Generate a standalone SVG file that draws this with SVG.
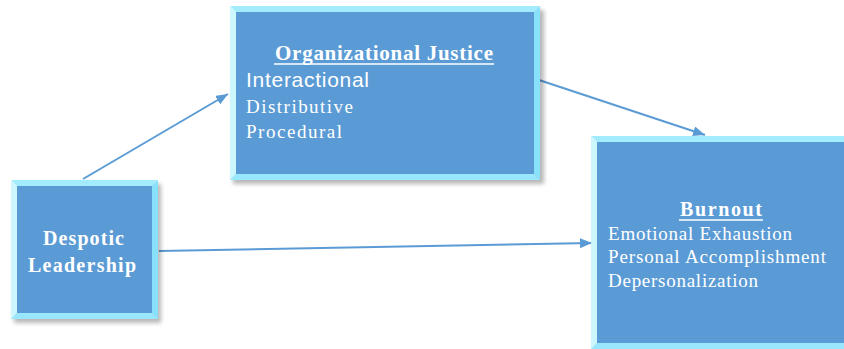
<svg xmlns="http://www.w3.org/2000/svg" width="844" height="349" viewBox="0 0 844 349">
  <defs>
    <style>
      .face { fill: #5B9BD5; }
      .bev-t { fill: #A3ECFE; }
      .bev-l { fill: #CCF7FF; }
      .bev-r { fill: #88E1FA; }
      .bev-b { fill: #98E7FC; }
      .shadow { fill: #000; opacity: 0.28; filter: url(#soft); }
      .title { font-family: "Liberation Serif", "Times New Roman", serif; font-weight: bold; fill: #FFFFFF; }
      .serif { font-family: "Liberation Serif", "Times New Roman", serif; fill: #FFFFFF; }
      .sans { font-family: "Liberation Sans", Arial, sans-serif; fill: #FFFFFF; }
      .uline { stroke: #FFFFFF; stroke-width: 1.3; }
      .link { stroke: #5B9BD5; stroke-width: 2; fill: none; marker-end: url(#head); }
    </style>
    <filter id="soft" x="-10%" y="-10%" width="130%" height="130%">
      <feGaussianBlur stdDeviation="2"/>
    </filter>
    <marker id="head" markerUnits="userSpaceOnUse" markerWidth="12" markerHeight="10" refX="12" refY="5" orient="auto">
      <path d="M0,0 L12,5 L0,10 z" fill="#5B9BD5"/>
    </marker>
  </defs>

  <rect width="844" height="349" fill="#FFFFFF"/>

  <!-- Connectors -->
  <g id="connectors">
    <line class="link" x1="83" y1="179" x2="228" y2="94"/>
    <line class="link" x1="539" y1="80" x2="705" y2="135"/>
    <line class="link" x1="159" y1="251" x2="592" y2="243"/>
  </g>

  <!-- Despotic Leadership -->
  <g id="despotic-leadership">
    <rect class="shadow" x="14" y="184" width="147" height="139"/>
    <polygon class="bev-t" points="11,180 158,180 152,186 17,186"/>
    <polygon class="bev-l" points="11,180 17,186 17,313 11,319"/>
    <polygon class="bev-r" points="158,180 158,319 152,313 152,186"/>
    <polygon class="bev-b" points="11,319 158,319 152,313 17,313"/>
    <rect class="face" x="17" y="186" width="135" height="127"/>
    <text class="title" x="43" y="245" font-size="20" textLength="81" lengthAdjust="spacing">Despotic</text>
    <text class="title" x="28" y="272" font-size="20" textLength="108" lengthAdjust="spacing">Leadership</text>
  </g>

  <!-- Organizational Justice -->
  <g id="organizational-justice">
    <rect class="shadow" x="233" y="10" width="311" height="174"/>
    <polygon class="bev-t" points="230,6 540,6 534,12 236,12"/>
    <polygon class="bev-l" points="230,6 236,12 236,174 230,180"/>
    <polygon class="bev-r" points="540,6 540,180 534,174 534,12"/>
    <polygon class="bev-b" points="230,180 540,180 534,174 236,174"/>
    <rect class="face" x="236" y="12" width="298" height="162"/>
    <text class="title" x="275" y="60" font-size="21" textLength="218" lengthAdjust="spacing">Organizational Justice</text>
    <line class="uline" x1="274" y1="64" x2="494" y2="64"/>
    <text class="sans" x="246" y="87" font-size="21" textLength="123" lengthAdjust="spacing">Interactional</text>
    <text class="serif" x="246" y="113" font-size="19" textLength="107" lengthAdjust="spacing">Distributive</text>
    <text class="serif" x="246" y="138" font-size="19" textLength="96" lengthAdjust="spacing">Procedural</text>
  </g>

  <!-- Burnout -->
  <g id="burnout">
    <rect class="shadow" x="594" y="140" width="260" height="215"/>
    <polygon class="bev-t" points="591,136 850,136 844,142 597,142"/>
    <polygon class="bev-l" points="591,136 597,142 597,343 591,349"/>
    <polygon class="bev-b" points="591,349 850,349 844,343 597,343"/>
    <rect class="face" x="597" y="142" width="253" height="201"/>
    <text class="title" x="680" y="216" font-size="20" textLength="82" lengthAdjust="spacing">Burnout</text>
    <line class="uline" x1="679" y1="220" x2="763" y2="220"/>
    <text class="serif" x="608" y="240" font-size="19" textLength="184" lengthAdjust="spacing">Emotional Exhaustion</text>
    <text class="serif" x="608" y="263" font-size="19" textLength="218" lengthAdjust="spacing">Personal Accomplishment</text>
    <text class="serif" x="608" y="287" font-size="19" textLength="150" lengthAdjust="spacing">Depersonalization</text>
  </g>
</svg>
